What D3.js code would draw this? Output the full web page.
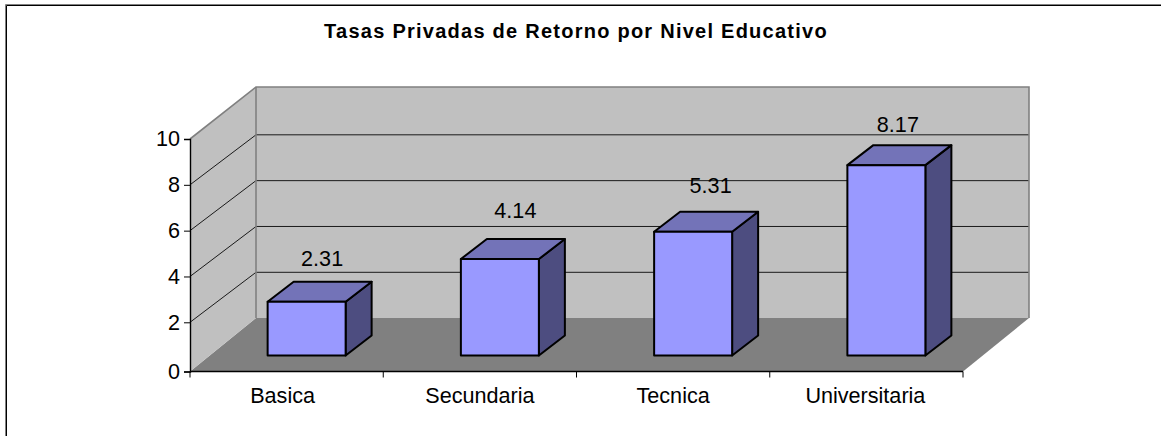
<!DOCTYPE html>
<html><head><meta charset="utf-8">
<script src="https://cdn.jsdelivr.net/npm/d3@7"></script>
<style>html,body{margin:0;padding:0;background:#fff}svg{display:block}text{font-family:"Liberation Sans",Arial,sans-serif;fill:#000}</style>
</head><body><div id="c"></div>
<script>
const titleText = "Tasas Privadas de Retorno por Nivel Educativo";
const categories = ["Basica","Secundaria","Tecnica","Universitaria"];
const values = [2.31,4.14,5.31,8.17];
const yTicks = [0,2,4,6,8,10];

const W=1161,H=436;
const wallDepth={dx:66,dy0:-53.5,dy10:-52,dyGrid:-50};
const barDepth={dx:26,dy:-20};
const barInset={dx:20,dy:-16};
const labelNudge=[{x:0,y:-1.5},{x:0,y:-7},{x:2,y:-5},{x:-4,y:1}];
const catNudge=[-4,0,0,-1];
// Value axis as drawn (the first interval of the 3-D axis is slightly larger)
const y=d3.scaleLinear().domain([0,2,10]).range([371.5,322.3,139]);
// Bar heights
const h=d3.scaleLinear().domain([0,10]).range([0,233]);
const x=d3.scaleBand().domain(categories).range([190,963]);
const barW=78;
const F="21.6px";
const svg=d3.select("#c").append("svg").attr("width",W).attr("height",H);
// frame: only left and top edges reach inside the picture
svg.append("path").attr("d",`M5.5,${H}V4.5H${W}`).attr("fill","none").attr("stroke","#808080").attr("stroke-width",1);
svg.append("path").attr("d",`M6.5,${H}V5.5H${W}`).attr("fill","none").attr("stroke","#000").attr("stroke-width",1);
const poly=pts=>pts.map(p=>p.join(",")).join(" ");
const [x0,x1]=x.range(), y0=y(0), yT=y(10);
const bx0=x0+wallDepth.dx,bx1=x1+wallDepth.dx,by0=y0+wallDepth.dy0,byT=yT+wallDepth.dy10;
// floor
svg.append("polygon").attr("points",poly([[x0,y0],[x1,y0],[bx1,by0],[bx0,by0]])).attr("fill","#808080");
// side wall
svg.append("polygon").attr("points",poly([[x0,y0],[bx0,by0],[bx0,byT],[x0,yT]])).attr("fill","#c0c0c0");
// back wall
svg.append("polygon").attr("points",poly([[bx0,by0],[bx1,by0],[bx1,byT],[bx0,byT]])).attr("fill","#c0c0c0");
// gridlines
yTicks.filter(t=>t>0&&t<10).forEach(t=>{
  const py=y(t), gy=py+wallDepth.dyGrid;
  svg.append("polyline").attr("points",poly([[x0,py],[bx0,gy],[bx1,gy]])).attr("fill","none").attr("stroke","#1a1a1a").attr("stroke-width",1);
});
// wall edges
svg.append("polyline").attr("points",poly([[x0,yT],[bx0,byT],[bx1,byT],[bx1,by0]])).attr("fill","none").attr("stroke","#808080").attr("stroke-width",1.6);
svg.append("line").attr("x1",bx0).attr("x2",bx0).attr("y1",byT).attr("y2",by0).attr("stroke","#808080").attr("stroke-width",1.6);
// axes
const ax=svg.append("g").attr("transform",`translate(${x0},0)`).call(d3.axisLeft(y).tickValues(yTicks).tickSize(6).tickPadding(4).tickFormat(d3.format("d")));
ax.select(".domain").attr("stroke-width",1.4);
ax.selectAll("text").style("font-size",F).style("font-family",'"Liberation Sans",Arial,sans-serif');
svg.append("line").attr("x1",x0).attr("x2",x1).attr("y1",y0).attr("y2",y0).attr("stroke","#000").attr("stroke-width",1.4);
svg.append("g").selectAll("line").data([...categories.map(c=>x(c)),x1]).join("line").attr("x1",d=>d).attr("x2",d=>d).attr("y1",y0).attr("y2",y0+6).attr("stroke","#000");
svg.selectAll(".catlab").data(categories).join("text").attr("class","catlab").attr("x",(d,i)=>x(d)+x.bandwidth()/2+catNudge[i]).attr("y",403).attr("text-anchor","middle").style("font-size",F).text(d=>d);
// bars
const g=svg.append("g").attr("stroke","#000").attr("stroke-width",2).attr("stroke-linejoin","round");
categories.forEach((c,i)=>{
  const v=values[i];
  const l=x(c)+x.bandwidth()/2-barW/2+barInset.dx, r=l+barW;
  const bot=y0+barInset.dy, top=bot-h(v);
  const o=(px,py)=>[px+barDepth.dx,py+barDepth.dy];
  g.append("polygon").attr("points",poly([[r,bot],o(r,bot),o(r,top),[r,top]])).attr("fill","#4d4d80");
  g.append("polygon").attr("points",poly([[l,top],[r,top],o(r,top),o(l,top)])).attr("fill","#7373b8");
  g.append("rect").attr("x",l).attr("y",top).attr("width",barW).attr("height",h(v)).attr("fill","#9999ff");
  svg.append("text").attr("x",l+54.5+labelNudge[i].x).attr("y",top-34+labelNudge[i].y).attr("text-anchor","middle").style("font-size",F).text(v.toFixed(2));
});
svg.append("text").attr("x",576).attr("y",38).attr("text-anchor","middle").style("font-size","20px").style("font-weight","bold").style("letter-spacing","1.25px").text(titleText);
</script></body></html>
